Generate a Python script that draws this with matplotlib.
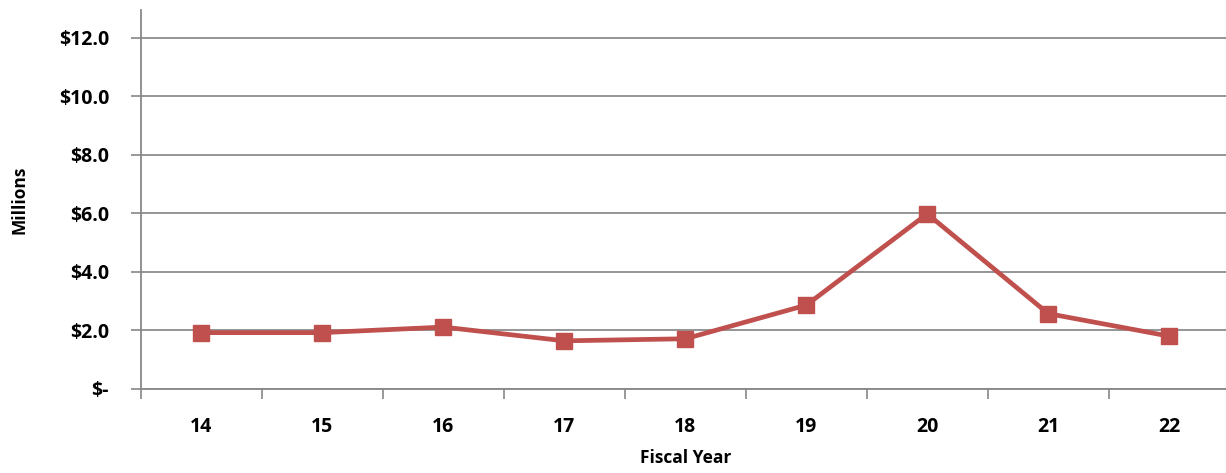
import matplotlib
matplotlib.use("Agg")
import matplotlib.pyplot as plt
import numpy as np

years = ["14", "15", "16", "17", "18", "19", "20", "21", "22"]
spend = [1.92, 1.92, 2.11, 1.64, 1.71, 2.86, 5.98, 2.57, 1.80]
y_ticks = [0, 2, 4, 6, 8, 10, 12]
y_labels = ["$-", "$2.0", "$4.0", "$6.0", "$8.0", "$10.0", "$12.0"]

plt.rcParams['font.family'] = ['Open Sans', 'DejaVu Sans']
plt.rcParams['font.weight'] = 'bold'

fig = plt.figure(figsize=(12.26, 4.73), dpi=100)
ax = fig.add_axes([0.115, 0.178, 0.888, 0.801])

x = np.arange(len(years))
ax.plot(x, spend, color='#C0504D', linewidth=3.4, marker='s', markersize=11,
        markerfacecolor='#C0504D', markeredgecolor='#C0504D', zorder=3)

ax.set_xlim(-0.5, len(years) - 0.5)
ax.set_ylim(0, 12.95)

# boundary ticks between categories, labels in the middle
ax.set_xticks(np.arange(len(years) + 1) - 0.5)
ax.set_xticklabels([])
ax.set_xticks(x, minor=True)
ax.set_xticklabels(years, minor=True, fontsize=14, fontweight='bold')
ax.tick_params(axis='x', which='minor', length=0, pad=20)
ax.tick_params(axis='x', which='major', length=7, width=1.2, color='#888888', direction='out')

ax.set_yticks(y_ticks)
ax.set_yticklabels(y_labels, fontsize=14, fontweight='bold')
ax.tick_params(axis='y', length=7, width=1.2, color='#888888', direction='out', pad=16)

ax.grid(axis='y', color='#8c8c8c', linewidth=1.3)
ax.set_axisbelow(True)

for s in ['top', 'right']:
    ax.spines[s].set_visible(False)
for s in ['left', 'bottom']:
    ax.spines[s].set_color('#888888')
    ax.spines[s].set_linewidth(1.3)

ax.set_xlabel('Fiscal Year', fontsize=12.5, fontweight='bold', labelpad=9)
ax.set_ylabel('Millions', fontsize=12.5, fontweight='bold', labelpad=22)

fig.savefig('out.png', dpi=100)
